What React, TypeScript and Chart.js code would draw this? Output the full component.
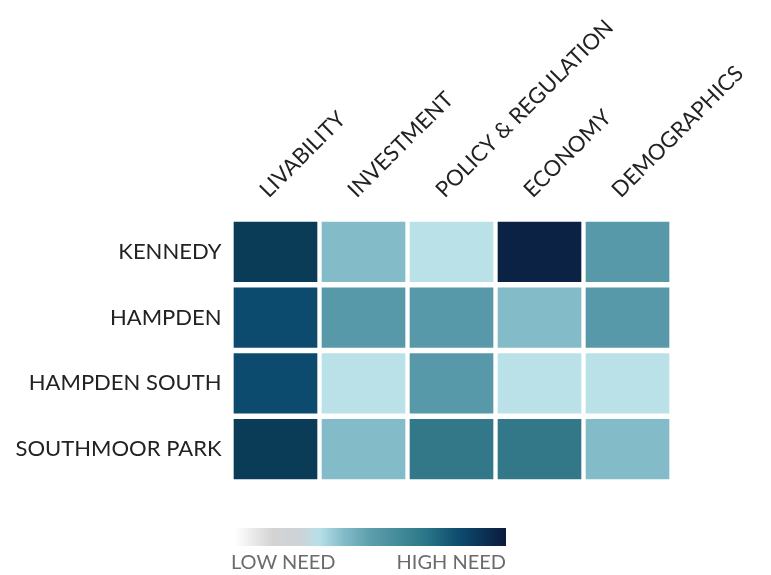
import React, { useEffect, useRef } from "react";
import { Chart, registerables } from "chart.js";

Chart.register(...registerables);

const categories = ["LIVABILITY", "INVESTMENT", "POLICY & REGULATION", "ECONOMY", "DEMOGRAPHICS"];
const neighborhoods = ["KENNEDY", "HAMPDEN", "HAMPDEN SOUTH", "SOUTHMOOR PARK"];

// need level per neighborhood (1 = low need, 7 = high need), in category order
const kennedy = [6, 2, 1, 7, 3];
const hampden = [5, 3, 3, 2, 3];
const hampdenSouth = [5, 1, 3, 1, 1];
const southmoorPark = [6, 2, 4, 4, 2];
const needRows = [kennedy, hampden, hampdenSouth, southmoorPark];

const palette = ["#bae0e8", "#83bcc8", "#5899a9", "#327889", "#0c4a6e", "#0a3c57", "#0b2245"];

const legendLow = "LOW NEED";
const legendHigh = "HIGH NEED";

const FONT = "Lato, 'Liberation Sans', sans-serif";

export default function App() {
  const ref = useRef<HTMLCanvasElement>(null);

  useEffect(() => {
    if (!ref.current) return;
    // stacked from bottom: last row first
    const order = [...needRows.keys()].reverse();
    const datasets = order.map((ri) => ({
      label: neighborhoods[ri],
      data: needRows[ri].map(() => 1),
      backgroundColor: needRows[ri].map((v) => palette[v - 1]),
      borderColor: "#ffffff",
      borderWidth: { left: 2.5, right: 2.5, top: 3, bottom: 3 },
      borderSkipped: false,
      barPercentage: 1,
      categoryPercentage: 1,
      yAxisID: "y",
      xAxisID: "x",
    }));

    const chart = new Chart(ref.current, {
      type: "bar",
      data: { labels: categories, datasets },
      options: {
        animation: false,
        responsive: true,
        maintainAspectRatio: false,
        layout: { padding: { left: 0, right: 99.5, top: 0, bottom: 93 } },
        plugins: { legend: { display: false }, tooltip: { enabled: false } },
        scales: {
          x: {
            type: "category",
            position: "top",
            stacked: true,
            offset: true,
            grid: { display: false, drawTicks: false },
            border: { display: false },
            ticks: {
              autoSkip: false,
              minRotation: 45,
              maxRotation: 45,
              padding: 16,
              labelOffset: 7,
              color: "#222222",
              font: { family: FONT, size: 22 },
            },
            afterFit: (s: any) => {
              s.height = 219;
              s.paddingLeft = 0;
              s.paddingRight = 0;
            },
          },
          y: {
            type: "linear",
            stacked: true,
            min: 0,
            max: needRows.length,
            display: false,
          },
          rows: {
            type: "category",
            labels: neighborhoods,
            position: "left",
            offset: true,
            grid: { display: false, drawTicks: false },
            border: { display: false },
            ticks: {
              padding: 10,
              color: "#222222",
              font: { family: FONT, size: 22 },
            },
            afterFit: (s: any) => {
              s.width = 231.5;
              s.paddingTop = 0;
              s.paddingBottom = 0;
            },
          },
        } as any,
      },
    });
    return () => chart.destroy();
  }, []);

  return (
    <div style={{ position: "fixed", left: 0, top: 0, width: 771, height: 575, background: "#fff" }}>
      <canvas ref={ref} />
      <div
        style={{
          position: "absolute",
          left: 235,
          top: 528,
          width: 271,
          height: 18,
          background:
            "linear-gradient(to right, #ffffff 0%, #d3d3d3 14%, #cdd3d6 24%, #b8e0e8 31%, #83bcc8 40%, #5d9eac 50%, #2e7a8a 69%, #0c4a6e 83%, #0b1a3c 100%)",
        }}
      />
      <div
        style={{
          position: "absolute",
          left: 231,
          top: 551,
          font: `20px ${FONT}`,
          lineHeight: "20px",
          color: "#6b6b6b",
          whiteSpace: "nowrap",
        }}
      >
        {legendLow}
      </div>
      <div
        style={{
          position: "absolute",
          right: 771 - 506,
          top: 551,
          font: `20px ${FONT}`,
          lineHeight: "20px",
          color: "#6b6b6b",
          whiteSpace: "nowrap",
        }}
      >
        {legendHigh}
      </div>
    </div>
  );
}
